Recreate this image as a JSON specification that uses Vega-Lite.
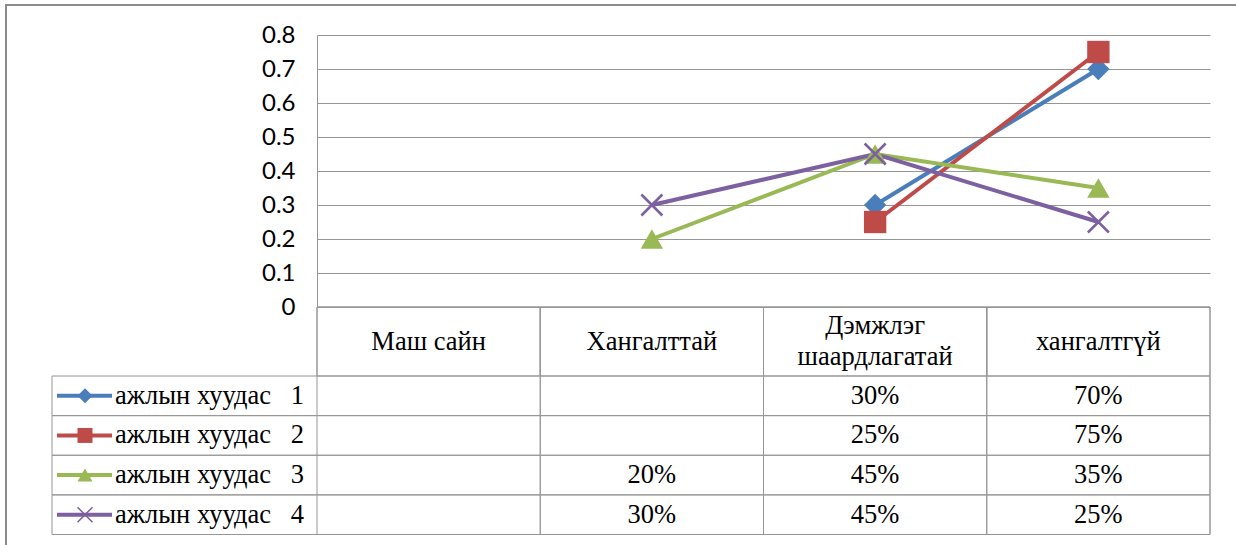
{
  "$schema": "https://vega.github.io/schema/vega-lite/v6.json",
  "width": 893,
  "height": 272,
  "autosize": {"type": "none"},
  "padding": {"left": 317, "top": 35, "right": 26, "bottom": 238},
  "background": "white",
  "config": {"view": {"stroke": null}},
  "datasets": {
    "vals": [
      {"series": "ажлын хуудас 1", "cat": "Дэмжлэг шаардлагатай", "value": 0.30},
      {"series": "ажлын хуудас 1", "cat": "хангалтгүй", "value": 0.70},
      {"series": "ажлын хуудас 2", "cat": "Дэмжлэг шаардлагатай", "value": 0.25},
      {"series": "ажлын хуудас 2", "cat": "хангалтгүй", "value": 0.75},
      {"series": "ажлын хуудас 3", "cat": "Хангалттай", "value": 0.20},
      {"series": "ажлын хуудас 3", "cat": "Дэмжлэг шаардлагатай", "value": 0.45},
      {"series": "ажлын хуудас 3", "cat": "хангалтгүй", "value": 0.35},
      {"series": "ажлын хуудас 4", "cat": "Хангалттай", "value": 0.30},
      {"series": "ажлын хуудас 4", "cat": "Дэмжлэг шаардлагатай", "value": 0.45},
      {"series": "ажлын хуудас 4", "cat": "хангалтгүй", "value": 0.25}
    ],
    "cats": [
      {"cat": "Маш сайн", "label": "Маш сайн"},
      {"cat": "Хангалттай", "label": "Хангалттай"},
      {"cat": "Дэмжлэг шаардлагатай", "label": "Дэмжлэг\nшаардлагатай"},
      {"cat": "хангалтгүй", "label": "хангалтгүй"}
    ],
    "series": [
      {"series": "ажлын хуудас 1", "label": "ажлын хуудас\u00a0\u00a0\u00a01"},
      {"series": "ажлын хуудас 2", "label": "ажлын хуудас\u00a0\u00a0\u00a02"},
      {"series": "ажлын хуудас 3", "label": "ажлын хуудас\u00a0\u00a0\u00a03"},
      {"series": "ажлын хуудас 4", "label": "ажлын хуудас\u00a0\u00a0\u00a04"}
    ]
  },
  "layer": [
    {
      "data": {"values": [{}]},
      "mark": {"type": "rect", "fillOpacity": 0, "stroke": "#8c8c8c", "strokeWidth": 2},
      "encoding": {
        "x": {"datum": -1.393, "type": "quantitative", "scale": {"domain": [0, 4], "nice": false, "zero": false}, "axis": null},
        "x2": {"datum": 4.3},
        "y": {
          "datum": 0.8882, "type": "quantitative", "scale": {"domain": [0, 0.8], "nice": false, "zero": false},
          "axis": {
            "values": [0, 0.1, 0.2, 0.3, 0.4, 0.5, 0.6, 0.7, 0.8],
            "format": "~g", "title": null, "grid": true, "gridColor": "#969696", "gridWidth": 1,
            "domain": true, "domainColor": "#969696", "ticks": false,
            "labelFont": "Lato", "labelFontSize": 24, "labelColor": "#000000", "labelPadding": 22
          }
        },
        "y2": {"datum": -0.9}
      }
    },
    {
      "layer": [
        {
          "layer": [
            {
              "data": {"name": "cats"},
              "mark": {"type": "rect", "fillOpacity": 0, "stroke": "#969696", "strokeWidth": 1},
              "encoding": {
                "x": {"field": "cat", "type": "nominal", "scale": {"domain": ["Маш сайн", "Хангалттай", "Дэмжлэг шаардлагатай", "хангалтгүй"], "paddingInner": 0, "paddingOuter": 0}, "axis": null},
                "y": {"datum": 0, "type": "quantitative", "scale": {"domain": [0, 0.8], "nice": false, "zero": false}, "axis": null},
                "y2": {"datum": -0.669}
              }
            },
            {
              "data": {"name": "cats"},
              "mark": {"type": "rect", "fillOpacity": 0, "stroke": "#969696", "strokeWidth": 1},
              "encoding": {
                "x": {"field": "cat", "type": "nominal", "axis": null},
                "y": {"datum": 0, "type": "quantitative", "axis": null},
                "y2": {"datum": -0.2029}
              }
            },
            {
              "data": {"name": "vals"},
              "mark": {"type": "line", "strokeWidth": 4},
              "encoding": {
                "x": {"field": "cat", "type": "nominal", "axis": null},
                "y": {"field": "value", "type": "quantitative", "axis": null},
                "color": {"field": "series", "type": "nominal", "scale": {"domain": ["ажлын хуудас 1", "ажлын хуудас 2", "ажлын хуудас 3", "ажлын хуудас 4"], "range": ["#4A7EBB", "#BE4B48", "#98B954", "#7D60A0"]}, "legend": null},
                "order": {"value": null}
              }
            },
            {
              "data": {"name": "vals"},
              "transform": [{"filter": "datum.series !== 'ажлын хуудас 4'"}],
              "mark": {"type": "point", "filled": true, "opacity": 1, "size": 500},
              "encoding": {
                "x": {"field": "cat", "type": "nominal", "axis": null},
                "y": {"field": "value", "type": "quantitative", "axis": null},
                "color": {"field": "series", "type": "nominal", "legend": null},
                "shape": {"field": "series", "type": "nominal", "scale": {"domain": ["ажлын хуудас 1", "ажлын хуудас 2", "ажлын хуудас 3", "ажлын хуудас 4"], "range": ["diamond", "square", "triangle-up", "M-1,-1L1,1M-1,1L1,-1"]}, "legend": null}
              }
            },
            {
              "data": {"name": "vals"},
              "transform": [{"filter": "datum.series === 'ажлын хуудас 4'"}],
              "mark": {"type": "point", "filled": false, "opacity": 1, "size": 441, "strokeWidth": 2.5},
              "encoding": {
                "x": {"field": "cat", "type": "nominal", "axis": null},
                "y": {"field": "value", "type": "quantitative", "axis": null},
                "color": {"field": "series", "type": "nominal", "legend": null},
                "shape": {"field": "series", "type": "nominal", "legend": null}
              }
            },
            {
              "data": {"name": "cats"},
              "transform": [{"filter": "datum.cat !== 'Дэмжлэг шаардлагатай'"}],
              "mark": {"type": "text", "font": "Liberation Serif", "fontSize": 26.5, "align": "center", "baseline": "middle", "color": "#000000"},
              "encoding": {
                "x": {"field": "cat", "type": "nominal", "axis": null},
                "y": {"datum": -0.1015, "type": "quantitative", "axis": null},
                "text": {"field": "label"}
              }
            },
            {
              "data": {"name": "cats"},
              "transform": [{"filter": "datum.cat === 'Дэмжлэг шаардлагатай'"}],
              "mark": {"type": "text", "font": "Liberation Serif", "fontSize": 26.5, "lineBreak": "\n", "lineHeight": 31, "dy": -15.5, "align": "center", "baseline": "middle", "color": "#000000"},
              "encoding": {
                "x": {"field": "cat", "type": "nominal", "axis": null},
                "y": {"datum": -0.1015, "type": "quantitative", "axis": null},
                "text": {"field": "label"}
              }
            }
          ]
        },
        {
          "data": {"name": "vals"},
          "mark": {"type": "text", "font": "Liberation Serif", "fontSize": 26.5, "align": "center", "baseline": "middle", "color": "#000000"},
          "encoding": {
            "x": {"field": "cat", "type": "nominal", "axis": null},
            "y": {"field": "series", "type": "nominal", "scale": {"domain": ["ажлын хуудас 1", "ажлын хуудас 2", "ажлын хуудас 3", "ажлын хуудас 4"], "range": [341, 499.5], "paddingInner": 0, "paddingOuter": 0}, "axis": null},
            "text": {"field": "value", "type": "quantitative", "format": ".0%"}
          }
        }
      ],
      "resolve": {"scale": {"y": "independent"}}
    },
    {
      "data": {"name": "series"},
      "layer": [
        {
          "mark": {"type": "rect", "fillOpacity": 0, "stroke": "#969696", "strokeWidth": 1},
          "encoding": {
            "x": {"datum": -1.187, "type": "quantitative", "scale": {"domain": [0, 4], "nice": false, "zero": false}, "axis": null},
            "x2": {"datum": 4},
            "y": {"field": "series", "type": "nominal", "scale": {"domain": ["ажлын хуудас 1", "ажлын хуудас 2", "ажлын хуудас 3", "ажлын хуудас 4"], "range": [341, 499.5], "paddingInner": 0, "paddingOuter": 0}, "axis": null}
          }
        },
        {
          "mark": {"type": "rule", "strokeWidth": 4},
          "encoding": {
            "x": {"datum": -1.1646, "type": "quantitative", "axis": null},
            "x2": {"datum": -0.9183},
            "y": {"field": "series", "type": "nominal", "axis": null},
            "color": {"field": "series", "type": "nominal", "legend": null}
          }
        },
        {
          "transform": [{"filter": "datum.series !== 'ажлын хуудас 4'"}],
          "mark": {"type": "point", "filled": true, "opacity": 1, "size": 225},
          "encoding": {
            "x": {"datum": -1.0392, "type": "quantitative", "axis": null},
            "y": {"field": "series", "type": "nominal", "axis": null},
            "color": {"field": "series", "type": "nominal", "legend": null},
            "shape": {"field": "series", "type": "nominal", "legend": null}
          }
        },
        {
          "transform": [{"filter": "datum.series === 'ажлын хуудас 4'"}],
          "mark": {"type": "point", "filled": false, "opacity": 1, "size": 225, "strokeWidth": 1.5},
          "encoding": {
            "x": {"datum": -1.0392, "type": "quantitative", "axis": null},
            "y": {"field": "series", "type": "nominal", "axis": null},
            "color": {"field": "series", "type": "nominal", "legend": null},
            "shape": {"field": "series", "type": "nominal", "legend": null}
          }
        },
        {
          "mark": {"type": "text", "font": "Liberation Serif", "fontSize": 26.5, "align": "left", "baseline": "middle", "color": "#000000"},
          "encoding": {
            "x": {"datum": -0.9048, "type": "quantitative", "axis": null},
            "y": {"field": "series", "type": "nominal", "axis": null},
            "text": {"field": "label"}
          }
        }
      ]
    }
  ],
  "resolve": {"scale": {"x": "independent", "y": "independent"}}
}
